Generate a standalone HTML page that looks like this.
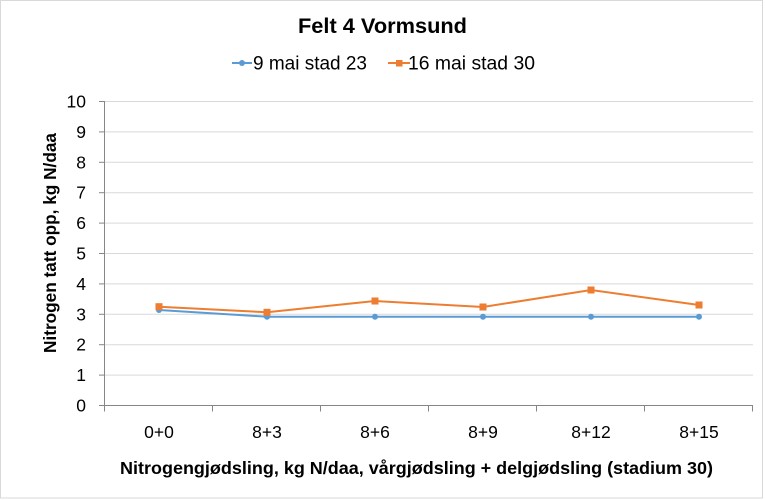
<!DOCTYPE html>
<html><head><meta charset="utf-8"><style>
html,body{margin:0;padding:0;background:#fff;}
svg{display:block;}
text{font-family:"Liberation Sans",sans-serif;fill:#000;}
</style></head><body>
<svg width="765" height="500" viewBox="0 0 765 500" xmlns="http://www.w3.org/2000/svg">
<rect x="0" y="0" width="765" height="500" fill="#fff"/>
<rect x="0.5" y="0.5" width="762" height="497.5" fill="none" stroke="#d9d9d9" stroke-width="1"/>
<text x="382.5" y="33" font-size="21.5" font-weight="bold" text-anchor="middle" textLength="169" lengthAdjust="spacingAndGlyphs">Felt 4 Vormsund</text>
<line x1="232" y1="63" x2="252" y2="63" stroke="#5b9bd5" stroke-width="2"/>
<circle cx="242" cy="63" r="3" fill="#5b9bd5"/>
<text x="253" y="69.5" font-size="19" textLength="114" lengthAdjust="spacingAndGlyphs">9 mai stad 23</text>
<line x1="388" y1="63" x2="410" y2="63" stroke="#ed7d31" stroke-width="2"/>
<rect x="396" y="60" width="6.5" height="6.5" fill="#ed7d31"/>
<text x="408" y="69.5" font-size="19" textLength="127" lengthAdjust="spacingAndGlyphs">16 mai stad 30</text>
<g stroke="#d9d9d9" stroke-width="1">
<line x1="105" y1="101.5" x2="753" y2="101.5"/>
<line x1="105" y1="131.9" x2="753" y2="131.9"/>
<line x1="105" y1="162.3" x2="753" y2="162.3"/>
<line x1="105" y1="192.7" x2="753" y2="192.7"/>
<line x1="105" y1="223.1" x2="753" y2="223.1"/>
<line x1="105" y1="253.5" x2="753" y2="253.5"/>
<line x1="105" y1="283.9" x2="753" y2="283.9"/>
<line x1="105" y1="314.3" x2="753" y2="314.3"/>
<line x1="105" y1="344.7" x2="753" y2="344.7"/>
<line x1="105" y1="375.1" x2="753" y2="375.1"/>
</g>
<g stroke="#868686" stroke-width="1">
<line x1="104.5" y1="101" x2="104.5" y2="405.5"/>
<line x1="99" y1="405.5" x2="753" y2="405.5"/>
<line x1="99" y1="101.5" x2="104.5" y2="101.5"/>
<line x1="99" y1="131.9" x2="104.5" y2="131.9"/>
<line x1="99" y1="162.3" x2="104.5" y2="162.3"/>
<line x1="99" y1="192.7" x2="104.5" y2="192.7"/>
<line x1="99" y1="223.1" x2="104.5" y2="223.1"/>
<line x1="99" y1="253.5" x2="104.5" y2="253.5"/>
<line x1="99" y1="283.9" x2="104.5" y2="283.9"/>
<line x1="99" y1="314.3" x2="104.5" y2="314.3"/>
<line x1="99" y1="344.7" x2="104.5" y2="344.7"/>
<line x1="99" y1="375.1" x2="104.5" y2="375.1"/>
<line x1="104.5" y1="405.5" x2="104.5" y2="411.5"/>
<line x1="212.5" y1="405.5" x2="212.5" y2="411.5"/>
<line x1="320.5" y1="405.5" x2="320.5" y2="411.5"/>
<line x1="428.5" y1="405.5" x2="428.5" y2="411.5"/>
<line x1="536.5" y1="405.5" x2="536.5" y2="411.5"/>
<line x1="644.5" y1="405.5" x2="644.5" y2="411.5"/>
<line x1="752.5" y1="405.5" x2="752.5" y2="411.5"/>
</g>
<g font-size="17.5" text-anchor="end">
<text x="86" y="107.5">10</text>
<text x="86" y="137.9">9</text>
<text x="86" y="168.3">8</text>
<text x="86" y="198.7">7</text>
<text x="86" y="229.1">6</text>
<text x="86" y="259.5">5</text>
<text x="86" y="289.9">4</text>
<text x="86" y="320.3">3</text>
<text x="86" y="350.7">2</text>
<text x="86" y="381.1">1</text>
<text x="86" y="411.5">0</text>
</g>
<g font-size="17.5" text-anchor="middle">
<text x="159" y="438">0+0</text>
<text x="267" y="438">8+3</text>
<text x="375" y="438">8+6</text>
<text x="483" y="438">8+9</text>
<text x="591" y="438">8+12</text>
<text x="699" y="438">8+15</text>
</g>
<text x="416.5" y="474" font-size="17.5" font-weight="bold" text-anchor="middle" textLength="593" lengthAdjust="spacingAndGlyphs">Nitrogengjødsling, kg N/daa, vårgjødsling + delgjødsling (stadium 30)</text>
<text transform="translate(56,243) rotate(-90)" x="0" y="0" font-size="17.5" font-weight="bold" text-anchor="middle" textLength="220" lengthAdjust="spacingAndGlyphs">Nitrogen tatt opp, kg N/daa</text>
<polyline points="159,310 267,316.7 375,316.7 483,316.7 591,316.7 699,316.7" fill="none" stroke="#5b9bd5" stroke-width="2"/>
<g fill="#5b9bd5">
<circle cx="159" cy="310" r="3"/>
<circle cx="267" cy="316.7" r="3"/>
<circle cx="375" cy="316.7" r="3"/>
<circle cx="483" cy="316.7" r="3"/>
<circle cx="591" cy="316.7" r="3"/>
<circle cx="699" cy="316.7" r="3"/>
</g>
<polyline points="159,306.7 267,312.3 375,301 483,307 591,290 699,305" fill="none" stroke="#ed7d31" stroke-width="2"/>
<g fill="#ed7d31">
<rect x="155.5" y="303.2" width="7" height="7"/>
<rect x="263.5" y="308.8" width="7" height="7"/>
<rect x="371.5" y="297.5" width="7" height="7"/>
<rect x="479.5" y="303.5" width="7" height="7"/>
<rect x="587.5" y="286.5" width="7" height="7"/>
<rect x="695.5" y="301.5" width="7" height="7"/>
</g>
</svg>
</body></html>
